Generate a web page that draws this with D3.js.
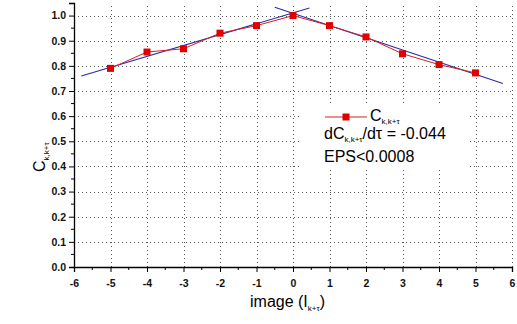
<!DOCTYPE html>
<html>
<head>
<meta charset="utf-8">
<script src="https://cdn.jsdelivr.net/npm/d3@7"></script>
<style>
  body { margin: 0; background: #fff; }
  text { font-family: "Liberation Sans", Arial, sans-serif; }
</style>
</head>
<body>
<svg width="517" height="324"></svg>
<script>
// data
var tau = [-5, -4, -3, -2, -1, 0, 1, 2, 3, 4, 5];
var corr = [0.79, 0.855, 0.868, 0.93, 0.96, 1.0, 0.96, 0.915, 0.848, 0.805, 0.772];
var leftFit = [[-5.8, 0.76], [0.45, 1.03]];
var rightFit = [[-0.5, 1.033], [5.75, 0.73]];
var xTicks = [-6, -5, -4, -3, -2, -1, 0, 1, 2, 3, 4, 5, 6];
var yTicks = [0, 0.1, 0.2, 0.3, 0.4, 0.5, 0.6, 0.7, 0.8, 0.9, 1.0];

var svg = d3.select('svg');

var x = d3.scaleLinear().domain([-6, 6]).range([74, 512]);
var y = d3.scaleLinear().domain([0, 1.05]).range([267, 3]);

// grid
var grid = svg.append('g').attr('stroke', '#555').attr('stroke-width', 1)
  .attr('stroke-dasharray', '1,3');
grid.selectAll('.gx').data(xTicks.slice(1)).enter().append('line')
  .attr('x1', function(d) { return Math.round(x(d)) + 0.5; })
  .attr('x2', function(d) { return Math.round(x(d)) + 0.5; })
  .attr('y1', y(0)).attr('y2', y(1.05));
grid.selectAll('.gy').data(yTicks.slice(1)).enter().append('line')
  .attr('y1', function(d) { return Math.round(y(d)) + 0.5; })
  .attr('y2', function(d) { return Math.round(y(d)) + 0.5; })
  .attr('x1', x(-6)).attr('x2', x(6));

// legend background hides grid
svg.append('rect').attr('x', 302).attr('y', 104).attr('width', 166).attr('height', 64)
  .attr('fill', '#fff');

// axes
var xAxis = d3.axisBottom(x).tickValues(xTicks).tickSize(5)
  .tickFormat(function(d) { return String(d); });
var gx = svg.append('g').attr('transform', 'translate(0,' + y(0) + ')').call(xAxis);
gx.selectAll('.minor').data(d3.range(-5.5, 6, 1)).enter().append('line')
  .attr('x1', function(d) { return x(d); }).attr('x2', function(d) { return x(d); })
  .attr('y1', 0).attr('y2', 3).attr('stroke', '#000');

var yAxis = d3.axisLeft(y).tickValues(yTicks).tickSize(5).tickFormat(d3.format('.1f'));
var gy = svg.append('g').attr('transform', 'translate(' + x(-6) + ',0)').call(yAxis);
gy.selectAll('.minor').data(d3.range(0.05, 1.05, 0.1)).enter().append('line')
  .attr('y1', function(d) { return y(d); }).attr('y2', function(d) { return y(d); })
  .attr('x1', 0).attr('x2', -3).attr('stroke', '#000');

svg.selectAll('.domain').attr('stroke', '#000').attr('stroke-width', 1.3);
svg.selectAll('.tick text').attr('font-size', 10.5).attr('font-weight', 'bold')
  .attr('font-family', '"Liberation Sans", Arial, sans-serif').attr('fill', '#111');
gx.selectAll('.tick text').attr('dy', '1.1em');

// fit lines
var line = d3.line().x(function(d) { return x(d[0]); }).y(function(d) { return y(d[1]); });
[leftFit, rightFit].forEach(function(f) {
  svg.append('path').attr('d', line(f)).attr('fill', 'none')
    .attr('stroke', '#2a2aa8').attr('stroke-width', 1.1);
});

// data line + markers
var pts = tau.map(function(t, i) { return [t, corr[i]]; });
svg.append('path').attr('d', line(pts)).attr('fill', 'none')
  .attr('stroke', '#d42020').attr('stroke-width', 1);
svg.selectAll('.mk').data(pts).enter().append('rect')
  .attr('x', function(d) { return x(d[0]) - 3.5; })
  .attr('y', function(d) { return y(d[1]) - 3.5; })
  .attr('width', 7).attr('height', 7).attr('fill', '#e00000');

// legend
svg.append('line').attr('x1', 325).attr('x2', 367).attr('y1', 117).attr('y2', 117)
  .attr('stroke', '#d42020').attr('stroke-width', 1);
svg.append('rect').attr('x', 342.5).attr('y', 113.5).attr('width', 7).attr('height', 7)
  .attr('fill', '#e00000');
var l1 = svg.append('text').attr('x', 370).attr('y', 121).attr('font-size', 16);
l1.append('tspan').text('C');
l1.append('tspan').attr('font-size', 8).attr('dy', 3).text('k,k+τ');

var l2 = svg.append('text').attr('x', 324).attr('y', 139).attr('font-size', 16);
l2.append('tspan').text('dC');
l2.append('tspan').attr('font-size', 8).attr('dy', 3).text('k,k+τ');
l2.append('tspan').attr('dy', -3).text('/dτ = -0.044');

svg.append('text').attr('x', 324).attr('y', 162).attr('font-size', 16).text('EPS<0.0008');

// axis titles
var xt = svg.append('text').attr('x', 250).attr('y', 307).attr('font-size', 16);
xt.append('tspan').text('image (I');
xt.append('tspan').attr('font-size', 8).attr('dy', 4).text('k+τ');
xt.append('tspan').attr('dy', -4).text(')');

var yt = svg.append('text').attr('transform', 'translate(45,172) rotate(-90)')
  .attr('font-size', 16);
yt.append('tspan').text('C');
yt.append('tspan').attr('font-size', 8).attr('dy', 4).text('k,k+τ');
</script>
</body>
</html>
